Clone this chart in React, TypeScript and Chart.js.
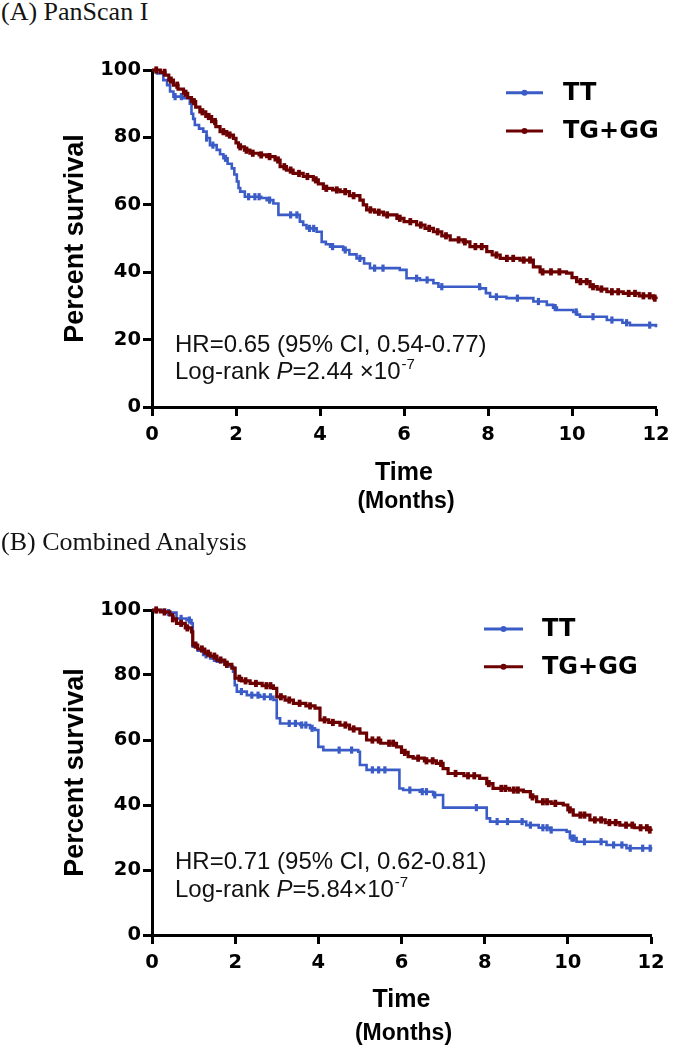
import React, { useEffect, useRef } from 'react';
import { Chart, registerables } from 'chart.js';

Chart.register(...registerables);

const BLUE = '#3b5cc6';
const RED = '#6c0000';

const seriesNames = ['TT', 'TG+GG'];
const xTicks = [0, 2, 4, 6, 8, 10, 12];
const yTicks = [0, 20, 40, 60, 80, 100];

// ---------- Panel A: PanScan I ----------
const A_TT_months = [0, 0.12, 0.27, 0.36, 0.43, 0.51, 0.75, 0.9, 0.94, 0.98, 1.02, 1.12, 1.22, 1.3, 1.38, 1.54, 1.62, 1.7, 1.8, 1.9, 1.96, 2.02, 2.06, 2.1, 2.21, 2.6, 2.73, 2.89, 3.01, 3.52, 3.6, 3.68, 3.92, 4.04, 4.14, 4.24, 4.55, 4.7, 4.87, 5.05, 5.19, 5.9, 6.06, 6.38, 6.7, 6.82, 7.81, 7.95, 8.05, 8.44, 9.08, 9.4, 9.55, 9.64, 10.03, 10.12, 10.19, 10.83, 11.2, 11.38, 12];
const A_TT_survival = [100, 99, 97, 95.5, 93.6, 92.1, 91.6, 90, 87, 85.5, 83.7, 82.6, 81.7, 79.8, 77.7, 76.3, 75, 73.8, 72.2, 70.8, 69, 66.9, 65, 63.9, 62.4, 62, 61.4, 60.4, 57, 55, 54, 53, 52, 49, 48.3, 47.6, 46.6, 45.3, 44.1, 42.6, 41.2, 40.7, 38.2, 37.7, 36.7, 35.7, 35.2, 33.8, 32.7, 32.3, 31.3, 30.3, 29.5, 28.8, 28.2, 27.4, 26.8, 25.8, 25, 24.3, 23.7];
const A_TT_censored = [0.55, 0.7, 1.3, 1.45, 1.75, 2.3, 2.45, 2.55, 2.8, 3.3, 3.45, 3.75, 3.85, 4.3, 4.6, 4.95, 5.3, 5.5, 6.3, 6.55, 6.9, 7.8, 8.2, 8.7, 9.2, 9.6, 10.1, 10.5, 10.95, 11.3, 11.85];

const A_TG_months = [0, 0.2, 0.31, 0.4, 0.51, 0.62, 0.75, 0.85, 0.94, 1.04, 1.14, 1.28, 1.42, 1.52, 1.62, 1.78, 1.94, 2.0, 2.06, 2.2, 2.33, 2.55, 2.73, 2.93, 3.05, 3.2, 3.36, 3.6, 3.84, 3.96, 4.08, 4.3, 4.48, 4.7, 4.95, 5.03, 5.11, 5.3, 5.51, 5.83, 6.0, 6.3, 6.5, 6.7, 6.9, 7.1, 7.41, 7.57, 7.97, 8.1, 8.29, 8.76, 9.08, 9.24, 9.87, 10.0, 10.11, 10.43, 10.6, 10.83, 11.22, 11.6, 11.94, 12];
const A_TG_survival = [100, 99.3, 98.5, 97, 95.5, 94.3, 93.1, 91.8, 90.6, 89, 87.6, 86.2, 84.7, 83.2, 81.7, 80.7, 79.7, 78.4, 77.2, 76.2, 75.3, 74.8, 74.3, 73.3, 71.3, 70.3, 69.3, 68.4, 67.4, 66.2, 64.9, 64.4, 63.9, 62.7, 61.4, 60, 58.5, 57.8, 57, 56, 55, 54, 53, 52, 50.8, 49.6, 49, 47.6, 46.1, 45.1, 44.1, 43.6, 41.6, 40.1, 39.7, 38.4, 37.2, 35.7, 35, 34.2, 33.7, 33, 32.3, 32];
const A_TG_censored = [0.1, 0.3, 0.45, 0.6, 0.8, 1.0, 1.2, 1.35, 1.5, 1.7, 1.85, 2.1, 2.25, 2.4, 2.6, 2.8, 3.0, 3.15, 3.3, 3.5, 3.7, 3.9, 4.15, 4.4, 4.6, 4.8, 5.2, 5.4, 5.6, 5.9, 6.15, 6.4, 6.6, 6.8, 7.0, 7.3, 7.45, 7.7, 7.85, 8.2, 8.45, 8.6, 8.85, 9.0, 9.3, 9.5, 9.7, 10.2, 10.35, 10.5, 10.7, 10.95, 11.1, 11.35, 11.5, 11.7, 11.85, 11.97];

// ---------- Panel B: Combined Analysis ----------
const B_TT_months = [0, 0.3, 0.59, 0.83, 0.95, 0.98, 1.1, 1.23, 1.4, 1.56, 1.75, 1.88, 1.95, 1.99, 2.04, 2.28, 2.6, 2.92, 3.0, 3.08, 3.56, 3.8, 3.92, 4.0, 4.12, 4.96, 5.0, 5.16, 5.95, 6.04, 6.44, 6.76, 7.0, 8.05, 8.13, 9.0, 9.3, 9.57, 9.97, 10.05, 10.21, 10.93, 11.41, 12];
const B_TT_survival = [100, 99.2, 97.4, 96.9, 95.9, 88.7, 87.5, 86.2, 85.1, 84.1, 83.3, 82.6, 81, 76.9, 74.9, 73.8, 73.3, 72.3, 66.7, 65.1, 64.6, 63.6, 63.1, 57.9, 56.9, 56.4, 52.3, 50.8, 45.1, 44.6, 44.1, 43.1, 39.2, 35.9, 34.9, 33.8, 33, 32.3, 31.8, 29.8, 28.7, 27.7, 26.7, 26.2];
const B_TT_censored = [0.4, 0.7, 0.9, 1.3, 1.5, 1.8, 2.15, 2.4, 2.55, 2.7, 2.85, 3.3, 3.45, 3.6, 3.7, 3.85, 4.5, 4.8, 5.3, 5.45, 5.6, 6.2, 6.5, 6.6, 6.8, 7.8, 8.3, 8.55, 8.9, 9.1, 9.4, 9.5, 9.6, 10.1, 10.15, 10.4, 10.8, 11.1, 11.3, 11.5, 11.8, 11.98];

const B_TG_months = [0, 0.2, 0.43, 0.5, 0.59, 0.8, 0.95, 0.98, 1.1, 1.27, 1.4, 1.56, 1.75, 1.92, 2.0, 2.15, 2.36, 2.65, 2.92, 3.0, 3.2, 3.4, 3.7, 3.92, 4.04, 4.25, 4.52, 4.75, 5.0, 5.16, 5.5, 5.88, 6.0, 6.16, 6.28, 6.55, 6.84, 7.0, 7.12, 7.5, 7.88, 8.05, 8.2, 8.6, 8.93, 9.1, 9.25, 9.6, 9.89, 10.0, 10.13, 10.53, 10.9, 11.25, 11.6, 11.97, 12];
const B_TG_survival = [100, 99.4, 98.5, 97.3, 95.9, 94.5, 93.3, 89.2, 88, 86.7, 85.8, 84.6, 83.3, 82.1, 79, 78.2, 77.4, 76.7, 75.9, 73.3, 72.3, 71.3, 70.5, 69.8, 66.2, 65.4, 64.6, 63.4, 62.1, 60, 59, 57.9, 56.2, 54.9, 54.4, 53.6, 52.8, 51.2, 49.7, 49, 48.2, 46.6, 45.1, 44.6, 44.1, 42.5, 41, 40.5, 40, 38.5, 36.9, 35.4, 34.6, 33.8, 33, 32.3, 32];
const B_TG_censored = [0.1, 0.3, 0.5, 0.7, 0.85, 1.05, 1.2, 1.35, 1.5, 1.65, 1.8, 2.1, 2.25, 2.5, 2.75, 2.85, 3.1, 3.3, 3.55, 3.8, 4.15, 4.35, 4.65, 4.85, 5.3, 5.45, 5.7, 5.8, 6.08, 6.4, 6.6, 6.75, 6.95, 7.3, 7.6, 7.75, 8.1, 8.4, 8.5, 8.7, 8.8, 9.15, 9.4, 9.5, 9.7, 10.05, 10.3, 10.4, 10.65, 10.8, 11.0, 11.15, 11.4, 11.55, 11.75, 11.9, 11.97];

const SANS = '"Liberation Sans", Arial, sans-serif';
const WIDE = '"DejaVu Sans", Verdana, sans-serif';

type Series = { months: number[]; survival: number[]; censored: number[]; color: string; name: string; width: number };

function survivalAt(months: number[], survival: number[], t: number) {
  let v = survival[0];
  for (let i = 0; i < months.length; i++) if (months[i] <= t) v = survival[i];
  return v;
}

type PanelCfg = {
  height: number;
  plotTop: number;
  plotBottom: number;
  plotRight: number;
  legend: { x1: number; x2: number; tx: number; y: number[] };
  hr: string;
  pText: string;
  annX: number;
  annY: number[];
  timeY: number;
  monthsY: number;
  series: Series[];
};

const decorPlugin = {
  id: 'kmDecor',
  afterDraw(chart: any, _args: any, opts: any) {
    const cfg: PanelCfg = opts.cfg;
    if (!cfg) return;
    const ctx = chart.ctx as CanvasRenderingContext2D;
    const area = chart.chartArea;
    ctx.save();
    ctx.fillStyle = '#000';
    // y-axis title
    ctx.save();
    ctx.translate(76, (area.top + area.bottom) / 2);
    ctx.rotate(-Math.PI / 2);
    ctx.font = `bold 27px ${SANS}`;
    ctx.textAlign = 'center';
    ctx.textBaseline = 'middle';
    ctx.fillText('Percent survival', 0, 0);
    ctx.restore();
    // x-axis title
    const cx = (area.left + area.right) / 2;
    ctx.textAlign = 'center';
    ctx.textBaseline = 'alphabetic';
    ctx.font = `bold 25px ${SANS}`;
    ctx.fillText('Time', cx, cfg.timeY);
    ctx.font = `bold 23px ${SANS}`;
    ctx.fillText('(Months)', cx + 2, cfg.monthsY);
    // legend
    cfg.series.forEach((s, i) => {
      const y = cfg.legend.y[i];
      ctx.strokeStyle = s.color;
      ctx.lineWidth = 3;
      ctx.beginPath();
      ctx.moveTo(cfg.legend.x1, y);
      ctx.lineTo(cfg.legend.x2, y);
      ctx.stroke();
      ctx.fillStyle = s.color;
      ctx.beginPath();
      ctx.arc((cfg.legend.x1 + cfg.legend.x2) / 2, y, 3, 0, Math.PI * 2);
      ctx.fill();
      ctx.fillStyle = '#000';
      ctx.font = `bold 24px ${WIDE}`;
      ctx.textAlign = 'left';
      ctx.textBaseline = 'middle';
      ctx.fillText(s.name, cfg.legend.tx, y + 1);
    });
    // annotation
    ctx.fillStyle = '#111';
    ctx.textAlign = 'left';
    ctx.textBaseline = 'alphabetic';
    ctx.font = `24px ${SANS}`;
    ctx.fillText(cfg.hr, cfg.annX, cfg.annY[0]);
    let x = cfg.annX;
    const y2 = cfg.annY[1];
    const part1 = 'Log-rank ';
    ctx.fillText(part1, x, y2);
    x += ctx.measureText(part1).width;
    ctx.font = `italic 24px ${SANS}`;
    ctx.fillText('P', x, y2);
    x += ctx.measureText('P').width;
    ctx.font = `24px ${SANS}`;
    ctx.fillText(cfg.pText, x, y2);
    x += ctx.measureText(cfg.pText).width;
    ctx.font = `15px ${SANS}`;
    ctx.fillText('-7', x + 1, y2 - 10);
    ctx.restore();
  },
};

function buildChart(canvas: HTMLCanvasElement, cfg: PanelCfg) {
  const datasets: any[] = [];
  cfg.series.forEach((s, idx) => {
    const order = idx === 0 ? 2 : 1;
    datasets.push({
      label: s.name,
      data: s.months.map((m, i) => ({ x: m, y: s.survival[i] })),
      showLine: true,
      stepped: 'before',
      borderColor: s.color,
      borderWidth: s.width,
      pointRadius: 0,
      fill: false,
      clip: 8,
      order,
    });
    datasets.push({
      label: s.name + ' censored',
      data: s.censored.map((t) => ({ x: t, y: survivalAt(s.months, s.survival, t) })),
      showLine: false,
      pointStyle: 'line',
      rotation: 90,
      pointRadius: 3.6,
      pointBorderWidth: s.width + 0.6,
      pointBorderColor: s.color,
      pointBackgroundColor: s.color,
      clip: 8,
      order,
    });
  });
  const axisBase = {
    type: 'linear' as const,
    grid: { drawOnChartArea: false, drawTicks: true, tickLength: 9, tickWidth: 3, tickColor: '#000' },
    border: { display: true, color: '#000', width: 3 },
  };
  return new Chart(canvas, {
    type: 'scatter',
    data: { datasets },
    options: {
      responsive: false,
      animation: false,
      devicePixelRatio: 1,
      layout: { padding: { top: cfg.plotTop, right: 678 - cfg.plotRight, left: 0, bottom: 0 } },
      plugins: { legend: { display: false }, tooltip: { enabled: false }, title: { display: false }, kmDecor: { cfg } } as any,
      scales: {
        x: {
          ...axisBase,
          min: 0,
          max: 12,
          afterBuildTicks: (scale: any) => {
            scale.ticks = xTicks.map((v) => ({ value: v }));
          },
          ticks: { color: '#000', padding: 7, font: { family: WIDE, weight: 'bold', size: 19.5 }, maxRotation: 0 },
          afterFit: (scale: any) => {
            scale.height = cfg.height - cfg.plotBottom;
          },
        },
        y: {
          ...axisBase,
          min: 0,
          max: 100,
          afterBuildTicks: (scale: any) => {
            scale.ticks = yTicks.map((v) => ({ value: v }));
          },
          ticks: { color: '#000', padding: 2, font: { family: WIDE, weight: 'bold', size: 19.5 } },
          afterFit: (scale: any) => {
            scale.width = 152;
          },
        },
      } as any,
    },
    plugins: [decorPlugin],
  });
}

function Panel({ top, cfg }: { top: number; cfg: PanelCfg }) {
  const ref = useRef<HTMLCanvasElement>(null);
  useEffect(() => {
    if (!ref.current) return;
    const chart = buildChart(ref.current, cfg);
    return () => chart.destroy();
  }, [cfg]);
  return (
    <canvas
      ref={ref}
      width={678}
      height={cfg.height}
      style={{ position: 'absolute', left: 0, top, width: 678, height: cfg.height }}
    />
  );
}

const panelA: PanelCfg = {
  height: 500,
  plotTop: 40,
  plotBottom: 377,
  plotRight: 656,
  legend: { x1: 506, x2: 543, tx: 563, y: [62.7, 101] },
  hr: 'HR=0.65 (95% CI, 0.54-0.77)',
  pText: '=2.44 \u00d710',
  annX: 175,
  annY: [321.7, 349.3],
  timeY: 450,
  monthsY: 478,
  series: [
    { months: A_TT_months, survival: A_TT_survival, censored: A_TT_censored, color: BLUE, name: seriesNames[0], width: 2.6 },
    { months: A_TG_months, survival: A_TG_survival, censored: A_TG_censored, color: RED, name: seriesNames[1], width: 3.2 },
  ],
};

const panelB: PanelCfg = {
  height: 480,
  plotTop: 40,
  plotBottom: 365,
  plotRight: 651,
  legend: { x1: 484, x2: 523, tx: 542, y: [59, 96.7] },
  hr: 'HR=0.71 (95% CI, 0.62-0.81)',
  pText: '=5.84\u00d710',
  annX: 175,
  annY: [299.3, 327.3],
  timeY: 436.7,
  monthsY: 470,
  series: [
    { months: B_TT_months, survival: B_TT_survival, censored: B_TT_censored, color: BLUE, name: seriesNames[0], width: 2.6 },
    { months: B_TG_months, survival: B_TG_survival, censored: B_TG_censored, color: RED, name: seriesNames[1], width: 3.2 },
  ],
};

const titleStyle: React.CSSProperties = {
  position: 'absolute',
  left: 1,
  fontFamily: '"Liberation Serif", "Times New Roman", serif',
  fontSize: 26,
  lineHeight: '26px',
  color: '#141414',
  whiteSpace: 'nowrap',
  margin: 0,
};

export default function App() {
  return (
    <div style={{ position: 'absolute', left: 0, top: 0, width: 678, height: 1050, background: '#fff', overflow: 'hidden' }}>
      <div style={{ ...titleStyle, top: -1 }}>(A) PanScan I</div>
      <Panel top={30} cfg={panelA} />
      <div style={{ ...titleStyle, top: 529 }}>(B) Combined Analysis</div>
      <Panel top={570} cfg={panelB} />
    </div>
  );
}
